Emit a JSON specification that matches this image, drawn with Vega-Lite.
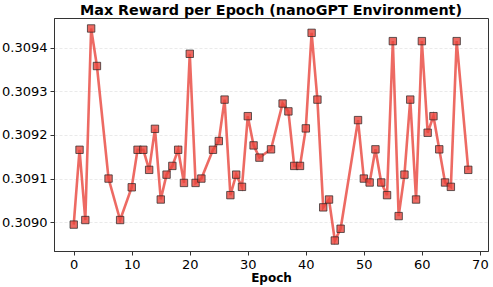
{
  "$schema": "https://vega.github.io/schema/vega-lite/v6.json",
  "autosize": "none",
  "width": 434,
  "height": 233,
  "padding": {"left": 54, "top": 18, "right": 5, "bottom": 36},
  "background": "white",
  "title": {"text": "Max Reward per Epoch (nanoGPT Environment)", "font": "DejaVu Sans", "fontSize": 14.3, "fontWeight": "bold", "color": "black", "offset": 0, "anchor": "middle"},
  "config": {
    "view": {"stroke": "#333", "strokeWidth": 1},
    "axis": {"labelFont": "DejaVu Sans", "labelFontSize": 13, "labelColor": "black", "titleFont": "DejaVu Sans", "titleFontSize": 12, "titleFontWeight": "bold", "titleColor": "black", "domainColor": "#333", "tickColor": "#333", "tickSize": 4}
  },
  "data": {"values": [
    {"epoch": 0, "reward": 0.3089945},
    {"epoch": 1, "reward": 0.309166},
    {"epoch": 2, "reward": 0.309005},
    {"epoch": 3, "reward": 0.309444},
    {"epoch": 4, "reward": 0.309358},
    {"epoch": 6, "reward": 0.309100},
    {"epoch": 8, "reward": 0.309005},
    {"epoch": 10, "reward": 0.309080},
    {"epoch": 11, "reward": 0.309166},
    {"epoch": 12, "reward": 0.309166},
    {"epoch": 13, "reward": 0.309120},
    {"epoch": 14, "reward": 0.309214},
    {"epoch": 15, "reward": 0.309052},
    {"epoch": 16, "reward": 0.309109},
    {"epoch": 17, "reward": 0.309129},
    {"epoch": 18, "reward": 0.309166},
    {"epoch": 19, "reward": 0.309090},
    {"epoch": 20, "reward": 0.309386},
    {"epoch": 21, "reward": 0.309090},
    {"epoch": 22, "reward": 0.309100},
    {"epoch": 24, "reward": 0.309166},
    {"epoch": 25, "reward": 0.309186},
    {"epoch": 26, "reward": 0.309281},
    {"epoch": 27, "reward": 0.309062},
    {"epoch": 28, "reward": 0.309109},
    {"epoch": 29, "reward": 0.309081},
    {"epoch": 30, "reward": 0.309243},
    {"epoch": 31, "reward": 0.309176},
    {"epoch": 32, "reward": 0.309148},
    {"epoch": 34, "reward": 0.309167},
    {"epoch": 36, "reward": 0.309272},
    {"epoch": 37, "reward": 0.309254},
    {"epoch": 38, "reward": 0.309129},
    {"epoch": 39, "reward": 0.309129},
    {"epoch": 40, "reward": 0.309215},
    {"epoch": 41, "reward": 0.309434},
    {"epoch": 42, "reward": 0.309281},
    {"epoch": 43, "reward": 0.309034},
    {"epoch": 44, "reward": 0.309052},
    {"epoch": 45, "reward": 0.308958},
    {"epoch": 46, "reward": 0.308985},
    {"epoch": 49, "reward": 0.309234},
    {"epoch": 50, "reward": 0.309100},
    {"epoch": 51, "reward": 0.309091},
    {"epoch": 52, "reward": 0.309167},
    {"epoch": 53, "reward": 0.309091},
    {"epoch": 54, "reward": 0.309062},
    {"epoch": 55, "reward": 0.309415},
    {"epoch": 56, "reward": 0.309014},
    {"epoch": 57, "reward": 0.309109},
    {"epoch": 58, "reward": 0.309281},
    {"epoch": 59, "reward": 0.309052},
    {"epoch": 60, "reward": 0.309415},
    {"epoch": 61, "reward": 0.309205},
    {"epoch": 62, "reward": 0.309243},
    {"epoch": 63, "reward": 0.309167},
    {"epoch": 64, "reward": 0.309091},
    {"epoch": 65, "reward": 0.309081},
    {"epoch": 66, "reward": 0.309415},
    {"epoch": 68, "reward": 0.309120}
  ]},
  "encoding": {
    "x": {"field": "epoch", "type": "quantitative", "scale": {"domain": [-3.4, 71.4], "nice": false, "zero": false},
      "axis": {"values": [0, 10, 20, 30, 40, 50, 60, 70], "grid": false, "title": "Epoch", "titlePadding": 1, "labelPadding": 3}},
    "y": {"field": "reward", "type": "quantitative", "scale": {"domain": [0.308934, 0.309468], "nice": false, "zero": false},
      "axis": {"values": [0.3090, 0.3091, 0.3092, 0.3093, 0.3094], "format": ".4f", "title": null, "grid": true, "gridColor": "#cccccc", "gridDash": [3, 2], "gridWidth": 0.6, "gridOpacity": 0.7, "labelPadding": 3}}
  },
  "layer": [
    {"mark": {"type": "line", "color": "#e8453c", "strokeWidth": 2.6, "opacity": 0.8}},
    {"mark": {"type": "square", "size": 55, "fill": "#e8453c", "fillOpacity": 0.8, "stroke": "#222222", "strokeWidth": 1, "strokeOpacity": 0.7}}
  ]
}
